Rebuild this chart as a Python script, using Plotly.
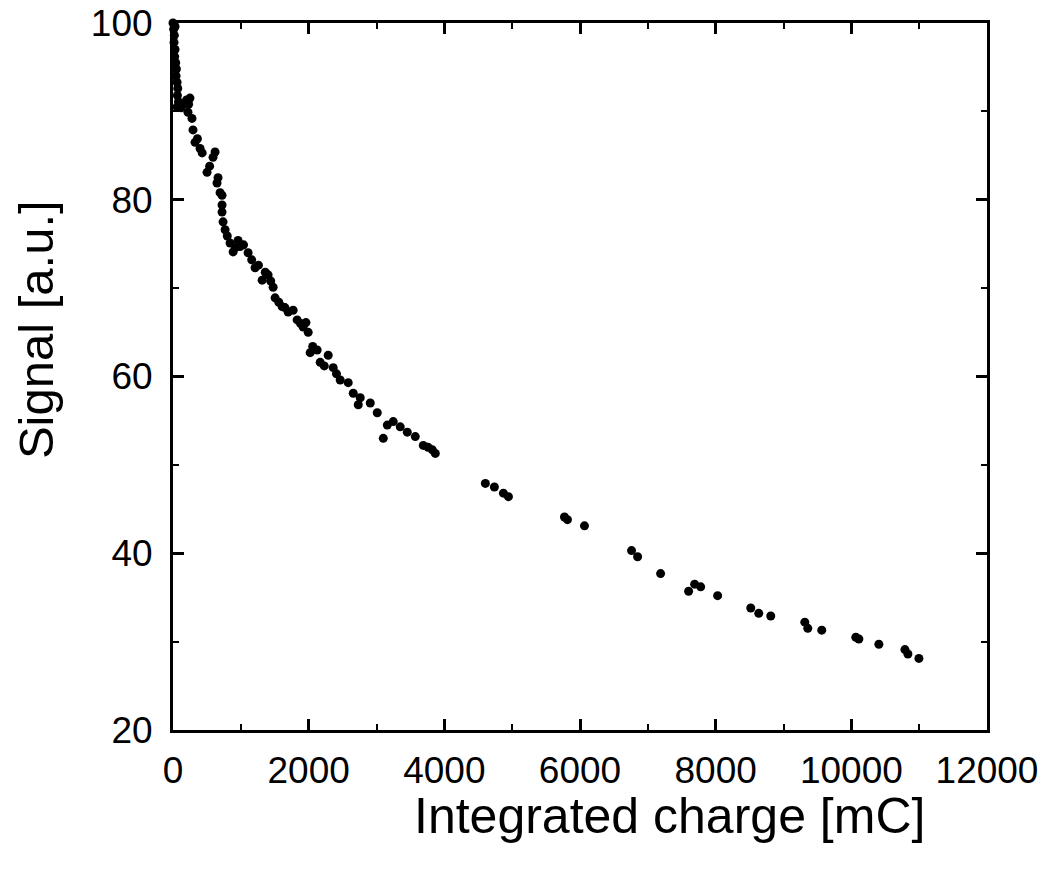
import plotly.graph_objects as go

# Integrated charge [mC]
charge = [
    0, 10, 20, 15, 30, 25, 40, 50, 45, 60, 70, 65, 80, 60, 30,
    120, 177, 200, 230, 250, 221, 280, 295, 325, 360, 399, 430, 502, 540, 590, 620, 664,
    649, 694, 723, 723, 723, 738, 768, 800, 841, 886, 920, 959, 989, 1040, 1107, 1160,
    1210, 1260, 1314, 1360, 1402, 1440, 1476, 1505, 1560, 1609, 1650, 1697, 1771, 1830,
    1880, 1919, 1960, 1993,
    2022, 2060, 2125, 2170, 2230, 2288, 2362, 2410, 2465, 2583, 2657, 2731, 2760, 2908,
    3011, 3100, 3159, 3247, 3350, 3454, 3572, 3690, 3760, 3823, 3867,
    4605, 4738, 4871, 4945, 5771, 5815, 6066, 6760, 6849, 7188, 7601, 7690, 7779, 8029,
    8517, 8635, 8812, 9314, 9358, 9564, 10066, 10111, 10406, 10790, 10834, 10996,
]

# Signal [a.u.]
signal = [
    100.0, 99.3, 98.6, 97.8, 97.0, 96.2, 95.5, 94.8, 94.0, 93.3, 92.6, 91.8, 91.1, 90.5, 99.6,
    90.4, 90.9, 91.3, 90.8, 91.5, 89.9, 89.2, 87.9, 86.5, 86.9, 85.8, 85.3, 83.1, 83.8, 84.8, 85.4, 82.5,
    81.9, 80.8, 80.5, 79.4, 78.6, 77.5, 76.6, 75.9, 75.1, 74.1, 74.6, 75.4, 74.7, 74.9, 74.0, 73.2,
    72.3, 72.6, 70.9, 71.8, 71.5, 70.8, 70.1, 68.9, 68.4, 67.9, 67.8, 67.3, 67.5, 66.4,
    66.0, 65.6, 66.1, 65.0,
    62.7, 63.4, 63.0, 61.6, 61.2, 62.4, 61.0, 60.3, 59.6, 59.3, 58.1, 56.8, 57.6, 57.0,
    55.9, 53.0, 54.5, 54.9, 54.3, 53.7, 53.2, 52.2, 52.0, 51.7, 51.3,
    47.9, 47.5, 46.8, 46.4, 44.1, 43.8, 43.1, 40.3, 39.6, 37.7, 35.7, 36.5, 36.2, 35.2,
    33.8, 33.2, 32.9, 32.2, 31.5, 31.3, 30.5, 30.3, 29.7, 29.1, 28.6, 28.1,
]

x_ticks = [0, 2000, 4000, 6000, 8000, 10000, 12000]
y_ticks = [20, 40, 60, 80, 100]

font_family = "Liberation Sans, Arial, Helvetica, sans-serif"

fig = go.Figure()
fig.add_trace(go.Scatter(
    x=charge, y=signal, mode="markers",
    marker=dict(color="black", size=9, line=dict(width=0)),
    cliponaxis=False, showlegend=False,
))

axis_common = dict(
    showgrid=False, zeroline=False, showline=True, linecolor="black", linewidth=3,
    mirror="ticks", ticks="inside", ticklen=11, tickwidth=3, tickcolor="black",
    tickfont=dict(family=font_family, size=37, color="black"),
    automargin=False, ticklabeloverflow="allow",
)

fig.update_xaxes(
    range=[0, 12000], tickvals=x_ticks, ticktext=[str(v) for v in x_ticks],
    minor=dict(dtick=1000, tick0=0, ticks="inside", ticklen=6, tickwidth=2, tickcolor="black"),
    ticklabelstandoff=6,
    **axis_common,
)
fig.update_yaxes(
    range=[20, 100], tickvals=y_ticks, ticktext=[str(v) for v in y_ticks],
    minor=dict(dtick=10, tick0=0, ticks="inside", ticklen=6, tickwidth=2, tickcolor="black"),
    ticklabelstandoff=10,
    **axis_common,
)

fig.add_annotation(
    text="Integrated charge [mC]", xref="paper", yref="paper",
    x=0.61, y=-0.122, xanchor="center", yanchor="middle", showarrow=False,
    font=dict(family=font_family, size=50, color="black"),
)
fig.add_annotation(
    text="Signal [a.u.]", xref="paper", yref="paper",
    x=-0.168, y=0.566, xanchor="center", yanchor="middle", showarrow=False,
    textangle=-90,
    font=dict(family=font_family, size=49, color="black"),
)

fig.update_layout(
    width=1054, height=873,
    margin=dict(l=165, r=75, t=15, b=151),
    plot_bgcolor="white", paper_bgcolor="white",
)

fig.write_html("out.html")
